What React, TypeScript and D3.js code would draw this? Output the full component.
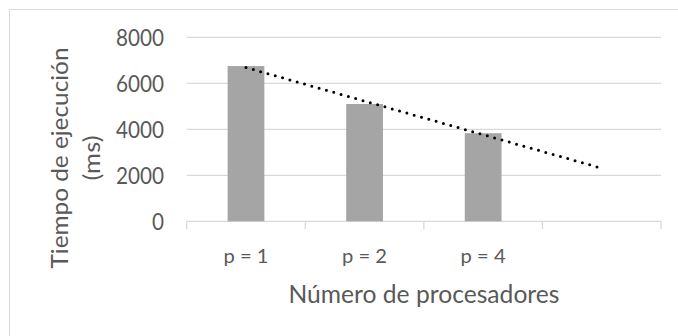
import React from "react";
import * as d3 from "d3";

const categories = ["p = 1", "p = 2", "p = 4", ""];
const barValues = [6750, 5100, 3830];
const yTicks = [0, 2000, 4000, 6000, 8000];
const xTitle = "Número de procesadores";
const yTitleLines = ["Tiempo de ejecución", "(ms)"];

const W = 678;
const H = 336;
const plot = { left: 186.7, right: 661, top: 37.3, bottom: 221.3 };
const FONT = "Lato, Carlito, 'Open Sans', sans-serif";
const TEXT = "#595959";
const GRID = "#d9d9d9";

export default function App() {
  const x = d3
    .scaleBand<string>()
    .domain(categories)
    .range([plot.left, plot.right])
    .paddingInner(0.69)
    .paddingOuter(0.345);
  const y = d3.scaleLinear().domain([0, 8000]).range([plot.bottom, plot.top]);

  // linear trendline (least squares over the bar series), forecast to the 4th slot
  const xs = barValues.map((_, i) => i + 1);
  const mx = d3.mean(xs)!;
  const my = d3.mean(barValues)!;
  const slope =
    d3.sum(xs.map((xi, i) => (xi - mx) * (barValues[i] - my))) /
    d3.sum(xs.map((xi) => (xi - mx) ** 2));
  const intercept = my - slope * mx;
  const trendPts: [number, number][] = [1, categories.length].map((t) => [
    x(categories[t - 1])! + x.bandwidth() / 2,
    y(intercept + slope * t),
  ]);
  const trendPath = d3.line()(trendPts)!;

  const step = x.step();
  const boundaries = d3.range(categories.length + 1).map((i) => plot.left + i * step);

  const yMid = 158;

  return (
    <svg
      width={W}
      height={H}
      style={{ position: "absolute", left: 0, top: 0, background: "#fff" }}
      fontFamily={FONT}
    >
      <rect x={0} y={0} width={W} height={H} fill="#fff" />
      <rect x={9.5} y={9.5} width={W + 20} height={H + 20} fill="none" stroke={GRID} strokeWidth={1} />

      {/* gridlines */}
      {yTicks.map((t) => (
        <line
          key={"g" + t}
          x1={plot.left}
          x2={plot.right}
          y1={y(t)}
          y2={y(t)}
          stroke={GRID}
          strokeWidth={1.3}
        />
      ))}

      {/* category ticks */}
      {boundaries.map((bx, i) => (
        <line
          key={"t" + i}
          x1={bx}
          x2={bx}
          y1={plot.bottom}
          y2={plot.bottom + 8}
          stroke={GRID}
          strokeWidth={1.3}
        />
      ))}

      {/* bars */}
      {barValues.map((v, i) => (
        <rect
          key={"b" + i}
          x={x(categories[i])!}
          y={y(v)}
          width={x.bandwidth()}
          height={y(0) - y(v)}
          fill="#a5a5a5"
        />
      ))}

      {/* trendline */}
      <path
        d={trendPath}
        fill="none"
        stroke="#000"
        strokeWidth={3}
        strokeLinecap="round"
        strokeDasharray="0 7.6"
      />

      {/* y tick labels */}
      {yTicks.map((t) => (
        <text
          key={"yl" + t}
          x={164}
          y={y(t) + 8.5}
          textAnchor="end"
          fontSize={22.3}
          fill={TEXT}
          textLength={String(t).length * 12}
          lengthAdjust="spacingAndGlyphs"
        >
          {String(t)}
        </text>
      ))}

      {/* x tick labels */}
      {categories.map((c, i) =>
        c ? (
          <text
            key={"xl" + i}
            x={x(c)! + x.bandwidth() / 2}
            y={262.7}
            textAnchor="middle"
            fontSize={18.6}
            fill={TEXT}
            textLength={45}
            lengthAdjust="spacingAndGlyphs"
          >
            {c}
          </text>
        ) : null
      )}

      {/* x title */}
      <text
        x={424}
        y={303.3}
        textAnchor="middle"
        fontSize={25.5}
        fill={TEXT}
        textLength={271}
        lengthAdjust="spacingAndGlyphs"
      >
        {xTitle}
      </text>

      {/* y title */}
      <g transform={`translate(67.7, ${yMid}) rotate(-90)`}>
        <text
          x={0}
          y={0}
          textAnchor="middle"
          fontSize={23.3}
          fill={TEXT}
          textLength={221}
          lengthAdjust="spacingAndGlyphs"
        >
          {yTitleLines[0]}
        </text>
        <text
          x={0}
          y={32}
          textAnchor="middle"
          fontSize={23.3}
          fill={TEXT}
          textLength={45}
          lengthAdjust="spacingAndGlyphs"
        >
          {yTitleLines[1]}
        </text>
      </g>
    </svg>
  );
}
